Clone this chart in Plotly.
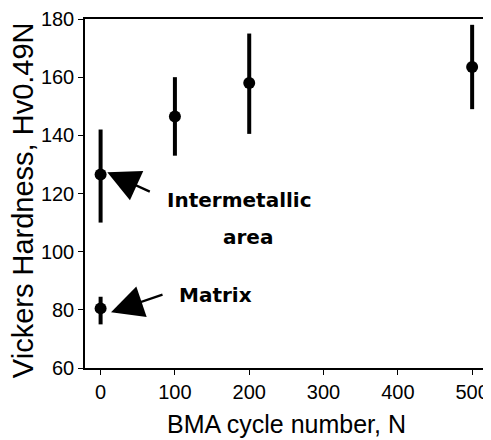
import plotly.graph_objects as go

# Data
cycles = [0, 100, 200, 500]
hv_intermetallic = [126.5, 146.5, 158.0, 163.5]
hv_inter_upper = [142.0, 160.0, 175.0, 178.0]
hv_inter_lower = [110.0, 133.0, 140.5, 149.0]

matrix_cycles = [0]
hv_matrix = [80.5]
hv_matrix_upper = [84.5]
hv_matrix_lower = [75.0]

x_ticks = [0, 100, 200, 300, 400, 500]
y_ticks = [60, 80, 100, 120, 140, 160, 180]

x_title = "BMA cycle number, N"
y_title = "Vickers Hardness, Hv0.49N"

AXIS_FONT = "Liberation Sans, Arial"
LABEL_FONT = "DejaVu Sans, Liberation Sans"

fig = go.Figure()


def add_series(xs, ys, up, lo):
    fig.add_trace(go.Scatter(
        x=xs, y=ys, mode="markers",
        marker=dict(color="black", size=12, symbol="circle"),
        error_y=dict(
            type="data", symmetric=False,
            array=[u - y for u, y in zip(up, ys)],
            arrayminus=[y - l for y, l in zip(ys, lo)],
            color="black", thickness=4, width=0,
        ),
        showlegend=False,
        cliponaxis=False,
    ))


add_series(cycles, hv_intermetallic, hv_inter_upper, hv_inter_lower)
add_series(matrix_cycles, hv_matrix, hv_matrix_upper, hv_matrix_lower)

# Arrows
fig.add_annotation(x=9, y=127.3, ax=44, ay=20, xref="x", yref="y",
                   showarrow=True, arrowhead=2, arrowsize=2.8, arrowwidth=2.3,
                   arrowcolor="black", text="")
fig.add_annotation(x=14, y=79.2, ax=53, ay=-18, xref="x", yref="y",
                   showarrow=True, arrowhead=2, arrowsize=2.8, arrowwidth=2.3,
                   arrowcolor="black", text="")

# Labels
fig.add_annotation(x=187.5, y=117.8, text="<b>Intermetallic</b>", showarrow=False,
                   font=dict(family=LABEL_FONT, size=20, color="black"))
fig.add_annotation(x=198, y=105.0, text="<b>area</b>", showarrow=False,
                   font=dict(family=LABEL_FONT, size=20, color="black"))
fig.add_annotation(x=154, y=85.1, text="<b>Matrix</b>", showarrow=False,
                   font=dict(family=LABEL_FONT, size=20, color="black"))

# Axis titles (placed as annotations for exact positioning)
fig.add_annotation(x=0.5, y=0, xref="paper", yref="paper", xanchor="center",
                   yanchor="top", yshift=-40, showarrow=False, text=x_title,
                   font=dict(family=AXIS_FONT, size=25, color="black"))
fig.add_annotation(x=0, y=0.481, xref="paper", yref="paper", xanchor="center",
                   yanchor="middle", xshift=-62, showarrow=False, text=y_title,
                   textangle=-90,
                   font=dict(family=AXIS_FONT, size=29, color="black"))

# The page body adds an 8px offset, so the figure is sized to place the
# plot area at the reference's pixel location (x 85-487, y 19-368).
fig.update_layout(
    width=483, height=432,
    margin=dict(l=77, r=4, t=11, b=72),
    paper_bgcolor="white", plot_bgcolor="white",
    font=dict(family=AXIS_FONT, color="black"),
    xaxis=dict(
        range=[-21, 520], tickvals=x_ticks, ticks="outside", ticklen=5,
        tickwidth=1.2, tickcolor="black", showgrid=False, zeroline=False,
        showline=True, linecolor="black", linewidth=1.5, mirror=True,
        automargin=False,
        tickfont=dict(size=20, family=AXIS_FONT),
    ),
    yaxis=dict(
        range=[60, 180], tickvals=y_ticks, ticks="outside", ticklen=5,
        tickwidth=1.2, tickcolor="black", showgrid=False, zeroline=False,
        showline=True, linecolor="black", linewidth=1.5, mirror=True,
        automargin=False,
        tickfont=dict(size=20, family=AXIS_FONT),
    ),
)

fig.write_html("out.html")
